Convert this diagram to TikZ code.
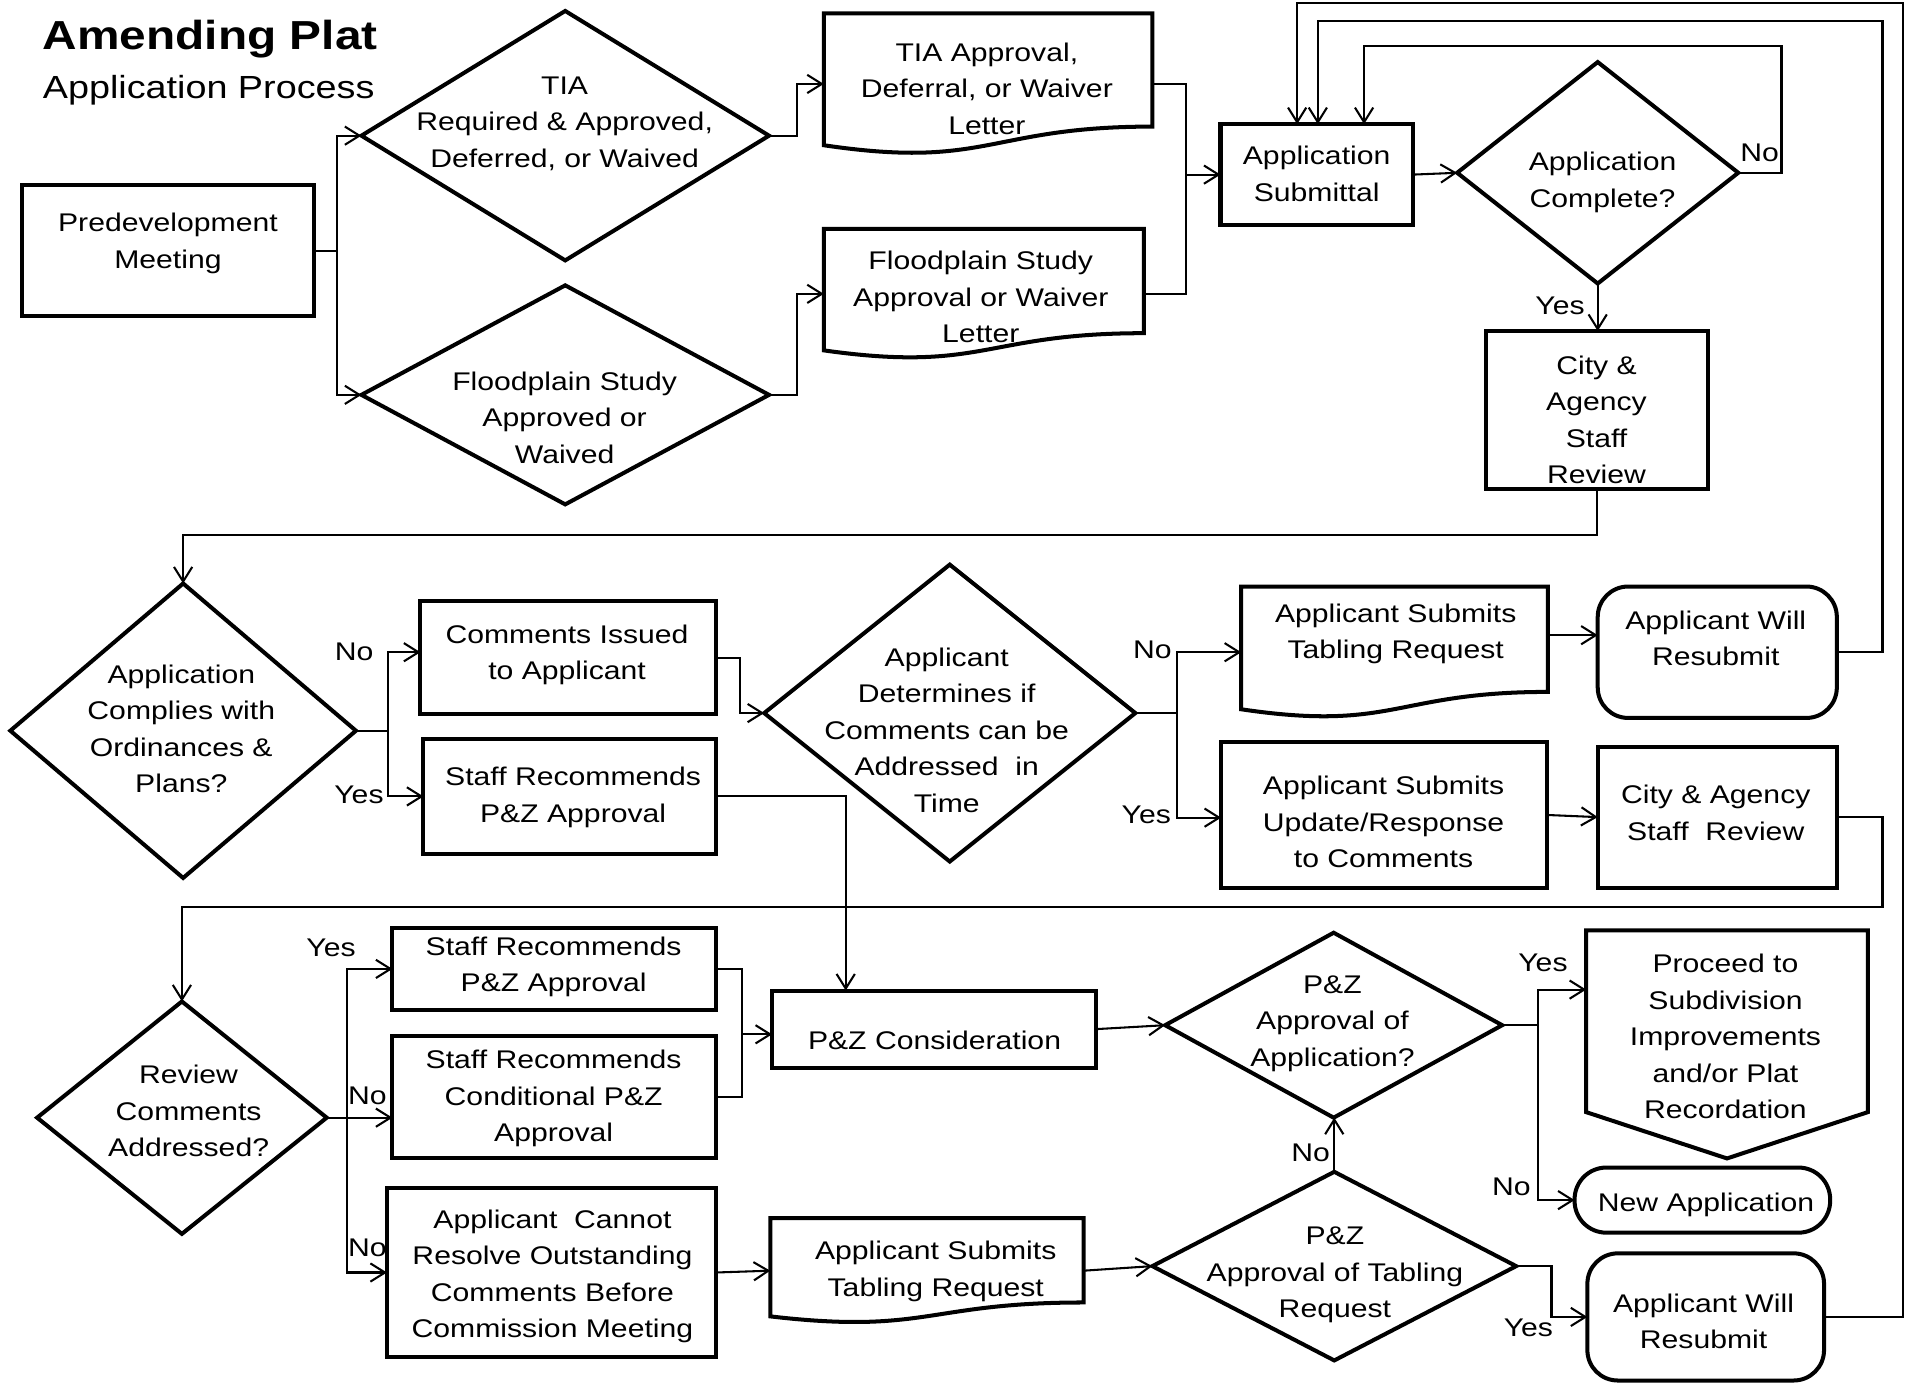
\documentclass[tikz,border=0pt]{standalone}
\usepackage{fontspec}
\setmainfont[FakeStretch=1.18]{Liberation Sans}
\usetikzlibrary{shapes.geometric,arrows.meta,calc}
\newcommand\docoutline[1]{\draw[shp] (#1.north west) -- (#1.north east) -- ($(#1.north east)!0.802!(#1.south east)$) .. controls ($(#1.north)!0.802!(#1.south)$) and ($(#1.north)!1.1075!(#1.south)$) .. ($(#1.north west)!0.934!(#1.south west)$) -- cycle;}
\begin{document}
\begin{tikzpicture}[x=1pt,y=-1pt,
  shp/.style={draw=black, line width=3.3pt, inner sep=0pt, outer sep=0pt},
  rbox/.style={shp, rectangle},
  dia/.style={shp, diamond},
  anch/.style={rectangle, inner sep=0pt, outer sep=0pt},
  txt/.style={align=center, inner sep=0pt, yshift=-2pt, font=\fontsize{21}{30}\selectfont},
  lbl/.style={inner sep=0pt, font=\fontsize{21}{30}\selectfont},
  conn/.style={line width=1.7pt},
  arr/.style={conn, -{Straight Barb[length=12pt,width=15pt]}},
]
\fill[white] (0,0) rectangle (1568,1137);
\useasboundingbox (0,0) rectangle (1568,1137);

% ---------- title ----------
\node[anchor=base west, inner sep=0pt, font=\bfseries\fontsize{33.3}{40}\selectfont] (title) at (35,41) {Amending Plat};
\node[anchor=base west, inner sep=0pt, font=\fontsize{26.3}{32}\selectfont] (subtitle) at (35,81) {Application Process};

% ---------- row 1 shapes ----------
\node[rbox, minimum width=240pt, minimum height=108pt] (predev) at (138,206) {};
\node[dia, minimum width=335pt, minimum height=205pt] (tia) at (464.5,111.5) {};
\node[dia, minimum width=335pt, minimum height=180pt] (flood) at (464.5,324.5) {};
\node[anch, minimum width=270pt, minimum height=116pt] (tialet) at (812,69) {};
\docoutline{tialet}
\node[anch, minimum width=263pt, minimum height=107pt] (floodlet) at (808.5,241.5) {};
\docoutline{floodlet}
\node[rbox, minimum width=158pt, minimum height=83pt] (sub) at (1082,143.5) {};
\node[dia, minimum width=231pt, minimum height=182pt] (comp) at (1313,142) {};
\node[rbox, minimum width=183pt, minimum height=130pt] (city1) at (1312.5,337) {};

% ---------- row 2 shapes ----------
\node[dia, minimum width=284pt, minimum height=242pt] (complies) at (150.5,600.5) {};
\node[rbox, minimum width=242.5pt, minimum height=93pt] (comments) at (466.75,540.5) {};
\node[rbox, minimum width=240pt, minimum height=94pt] (staffr2) at (468,654.5) {};
\node[dia, minimum width=305pt, minimum height=244pt] (det) at (780.5,586) {};
\node[anch, minimum width=252pt, minimum height=108pt] (tab2) at (1146,536) {};
\docoutline{tab2}
\node[rbox, rounded corners=25pt, minimum width=196.5pt, minimum height=108pt] (resub2) at (1411.25,536) {};
\node[rbox, minimum width=268pt, minimum height=119.5pt] (update) at (1137.5,669.75) {};
\node[rbox, minimum width=196.5pt, minimum height=116pt] (city2) at (1411.25,671.5) {};

% ---------- row 3 shapes ----------
\node[dia, minimum width=238pt, minimum height=191pt] (review) at (149.5,918.5) {};
\node[rbox, minimum width=265.5pt, minimum height=67.5pt] (staffr3) at (455.25,796.25) {};
\node[rbox, minimum width=265.5pt, minimum height=100pt] (cond) at (455.25,901.5) {};
\node[rbox, minimum width=270pt, minimum height=138.5pt] (cannot) at (453,1045.75) {};
\node[rbox, minimum width=266pt, minimum height=63.5pt] (pzc) at (767.5,845.75) {};
\node[dia, minimum width=277pt, minimum height=152pt] (pza) at (1096,842.5) {};
\node[anch, minimum width=231.5pt, minimum height=187.5pt] (proceed) at (1419.25,858.25) {};
\draw[shp] (proceed.north west) -- (proceed.north east) -- ($(proceed.north east)!0.797!(proceed.south east)$) -- (proceed.south) -- ($(proceed.north west)!0.797!(proceed.south west)$) -- cycle;
\node[rbox, rounded corners=26pt, minimum width=210pt, minimum height=53.5pt] (newapp) at (1399,986.25) {};
\node[anch, minimum width=257.5pt, minimum height=86.5pt] (tab3) at (761.75,1044.25) {};
\docoutline{tab3}
\node[dia, minimum width=299pt, minimum height=155pt] (tabd) at (1096.5,1040.5) {};
\node[rbox, rounded corners=25pt, minimum width=194.5pt, minimum height=104.5pt] (resub3) at (1401.75,1082.25) {};

% ---------- texts ----------
\node[txt] (predevT) at (138,198) {Predevelopment\\Meeting};
\node[txt] (tiaT) at (464,99.5) {TIA\\Required \& Approved,\\Deferred, or Waived};
\node[txt] (floodT) at (464,341) {Floodplain Study\\Approved or\\Waived};
\node[txt] (tialetT) at (811,71) {TIA Approval,\\Deferral, or Waiver\\Letter};
\node[txt] (floodletT) at (806,242) {Floodplain Study\\Approval or Waiver\\Letter};
\node[txt] (subT) at (1082,141) {Application\\Submittal};
\node[txt] (compT) at (1317,148) {Application\\Complete?};
\node[txt] (city1T) at (1312,343) {City \&\\Agency\\Staff\\Review};
\node[txt] (compliesT) at (149,597) {Application\\Complies with\\Ordinances \&\\Plans?};
\node[txt] (commentsT) at (466,536) {Comments Issued\\to Applicant};
\node[txt] (staffr2T) at (471,653.5) {Staff Recommends\\P\&Z Approval};
\node[txt] (detT) at (778,598) {Applicant\\Determines if\\Comments can be\\Addressed\ \ in\\Time};
\node[txt] (tab2T) at (1147,519) {Applicant Submits\\Tabling Request};
\node[txt] (resub2T) at (1410,522.5) {Applicant Will\\Resubmit};
\node[txt] (updateT) at (1137,673.5) {Applicant Submits\\Update/Response\\to Comments};
\node[txt] (city2T) at (1410,666) {City \& Agency\\Staff\ \ Review};
\node[txt] (reviewT) at (155,911) {Review\\Comments\\Addressed?};
\node[txt] (staffr3T) at (455,792.5) {Staff Recommends\\P\&Z Approval};
\node[txt] (condT) at (455,901) {Staff Recommends\\Conditional P\&Z\\Approval};
\node[txt] (cannotT) at (454,1047) {Applicant\ \ Cannot\\Resolve Outstanding\\Comments Before\\Commission Meeting};
\node[txt] (pzcT) at (768,853) {P\&Z Consideration};
\node[txt] (tab3T) at (769,1043) {Applicant Submits\\Tabling Request};
\node[txt] (pzaT) at (1095,839) {P\&Z\\Approval of\\Application?};
\node[txt] (proceedT) at (1418,850) {Proceed to\\Subdivision\\Improvements\\and/or Plat\\Recordation};
\node[txt] (newappT) at (1402,988) {New Application};
\node[txt] (tabdT) at (1097,1046) {P\&Z\\Approval of Tabling\\Request};
\node[txt] (resub3T) at (1400,1084) {Applicant Will\\Resubmit};

% ---------- labels ----------
\node[lbl] (noA) at (1446,126) {No};
\node[lbl] (yesA) at (1282,251) {Yes};
\node[lbl] (noB) at (291,536) {No};
\node[lbl] (yesB) at (295,653) {Yes};
\node[lbl] (noC) at (947,534) {No};
\node[lbl] (yesC) at (942,670) {Yes};
\node[lbl] (yesD) at (272,779) {Yes};
\node[lbl] (noD) at (302,900.5) {No};
\node[lbl] (noE) at (302,1025.5) {No};
\node[lbl] (yesF) at (1268,791) {Yes};
\node[lbl] (noF) at (1242,975) {No};
\node[lbl] (noG) at (1077,947) {No};
\node[lbl] (yesG) at (1256,1091) {Yes};

% ---------- connectors row 1 ----------
\coordinate (jA) at (277,206);
\draw[conn] (predev.east) -- (jA);
\draw[arr] (jA) |- (tia.west);
\draw[arr] (jA) |- (flood.west);
\coordinate (jB) at (655,200);
\draw[arr] (tia.east) -- (tia.east -| jB) |- (tialet.west);
\draw[arr] (flood.east) -- (flood.east -| jB) |- (floodlet.west);
\coordinate (jC) at (975,140);
\draw[conn] (tialet.east) -| (jC |- sub.west);
\draw[conn] (floodlet.east) -| (jC |- sub.west);
\draw[arr] (jC |- sub.west) -- (sub.west);
\draw[arr] (sub.east) -- (comp.west);
\coordinate (noTop) at (1464,38);
\coordinate (noTopL) at (1121,38);
\draw[arr] (comp.east) -| (noTop) -- (noTopL) -- (noTopL |- sub.north);
\draw[arr] (comp.south) -- (comp.south |- city1.north);
\coordinate (rA) at (150,440);
\draw[arr] (city1.south) |- (complies.north |- rA) -- (complies.north);

% ---------- connectors row 2 ----------
\coordinate (jD) at (319,600);
\draw[conn] (complies.east) -- (complies.east -| jD);
\draw[arr] (complies.east -| jD) |- ([yshift=4.5pt]comments.west);
\draw[arr] (complies.east -| jD) |- (staffr2.west);
\coordinate (jE) at (608,560);
\draw[arr] (comments.east) -| (jE |- det.west) -- (det.west);
\coordinate (jF) at (695,700);
\draw[arr] (staffr2.east) -| (jF |- pzc.north);
\coordinate (jG) at (967,586);
\draw[conn] (det.east) -- (det.east -| jG);
\draw[arr] (det.east -| jG) |- (tab2.west);
\draw[arr] (det.east -| jG) |- ([yshift=-2.2pt]update.west);
\draw[arr] ([yshift=14pt]tab2.east) -- ([yshift=14pt]tab2.east -| resub2.west);
\coordinate (rB) at (1547,17);
\coordinate (rBL) at (1083,17);
\draw[arr] (resub2.east) -| (rB) -- (rBL) -- (rBL |- sub.north);
\draw[arr] (update.east) -- (city2.west);
\coordinate (rC) at (1547,745);
\draw[arr] (city2.east) -| (rC) -- (review.north |- rC) -- (review.north);

% ---------- connectors row 3 ----------
\coordinate (jH) at (285,918.5);
\draw[conn] (review.east) -- (jH);
\draw[arr] (jH) |- (staffr3.west);
\draw[arr] (jH) -- (jH -| cond.west);
\draw[arr] (jH) |- (cannot.west);
\coordinate (jI) at (610,850);
\draw[conn] (staffr3.east) -| (jI);
\draw[conn] (cond.east) -| (jI);
\draw[arr] (jI) -- (jI -| pzc.west);
\draw[arr] (pzc.east) -- (pza.west);
\coordinate (jJ) at (1264,842.5);
\draw[conn] (pza.east) -- (jJ);
\draw[arr] (jJ) |- ([yshift=45pt]proceed.west);
\draw[arr] (jJ) |- (newapp.west);
\draw[arr] (cannot.east) -- (tab3.west);
\draw[arr] (tab3.east) -- (tabd.west);
\draw[arr] (tabd.north) -- (tabd.north |- pza.south);
\coordinate (jK) at (1275,1040.5);
\draw[arr] (tabd.east) -| (jK |- resub3.west) -- (resub3.west);
\coordinate (rD) at (1564,2.5);
\coordinate (rDL) at (1066,2.5);
\draw[arr] (resub3.east) -| (rD) -- (rDL) -- (rDL |- sub.north);
\end{tikzpicture}
\end{document}
